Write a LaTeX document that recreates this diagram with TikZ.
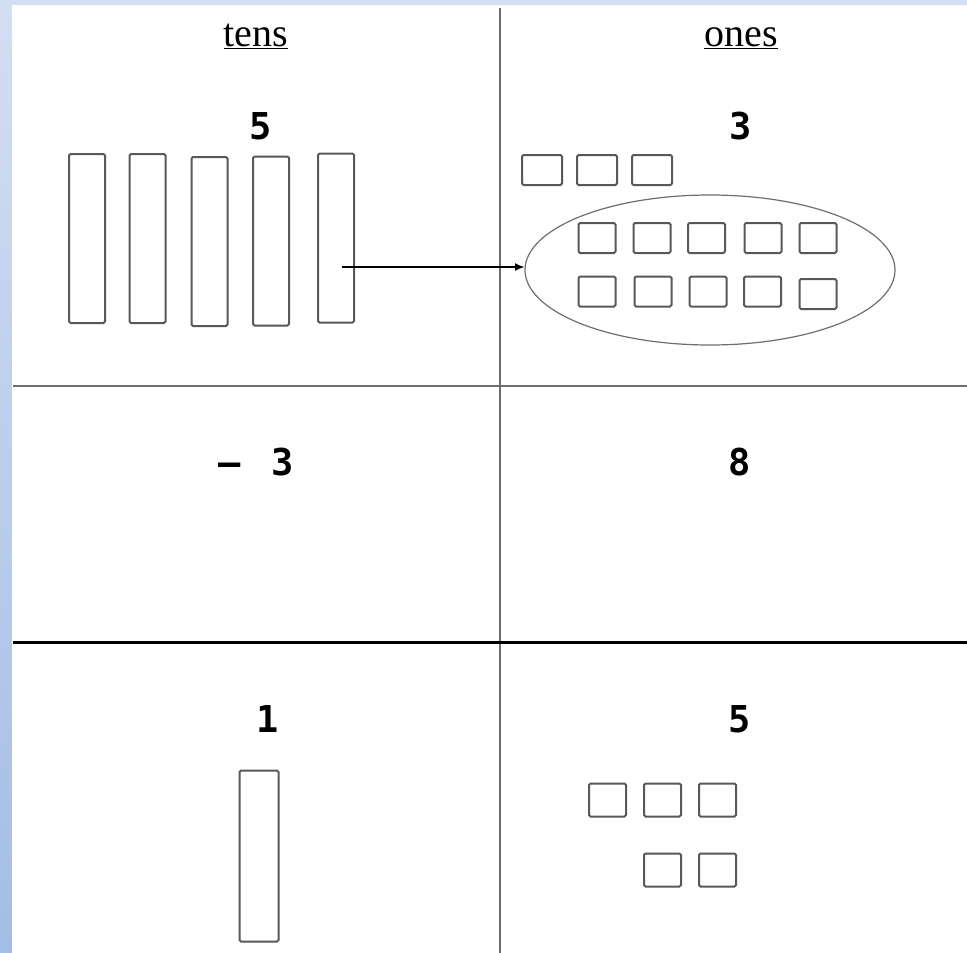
\documentclass[tikz,border=0pt]{standalone}
\usepackage{fontspec}
\setmainfont{Liberation Serif}
\newfontfamily\digitfont{DejaVu Sans Mono}
\usetikzlibrary{shapes.geometric, arrows.meta, positioning}
\definecolor{SlideTop}  {HTML}{D3DEF2}
\definecolor{SlideBot}  {HTML}{A3BDE6}
\definecolor{BlockGray} {HTML}{585858}
\definecolor{RuleGray}  {HTML}{6E6E6E}

\begin{document}
\begin{tikzpicture}[
  x=1pt, y=-1pt,
  every node/.style={inner sep=0pt, outer sep=0pt},
  rod/.style={draw=BlockGray, line width=2pt, rounded corners=1.5pt,
    minimum width=36pt, minimum height=169pt},
  unit/.style={draw=BlockGray, line width=2pt, rounded corners=1.5pt,
    minimum width=37pt, minimum height=30pt},
  head/.style={font=\fontsize{40}{44}\selectfont, anchor=base},
  digit/.style={font=\digitfont\bfseries\fontsize{37}{40}\selectfont, anchor=base},
]
% Slide background
\useasboundingbox (0,0) rectangle (967,953);
\fill[SlideTop] (0,0) rectangle (967,953);
\shade[top color=SlideTop, bottom color=SlideBot] (0,0) rectangle (12,953);
\fill[white] (12,5) rectangle (967,953);

% Table rules
\draw[RuleGray, line width=2pt] (500,8) -- (500,953);
\draw[RuleGray, line width=2.5pt] (13,386) -- (967,386);
\draw[black, line width=3.5pt] (13,642.5) -- (967,642.5);

% Column headings
\node[head] (tens) at (256,46) {\underline{tens}};
\node[head] (ones) at (741,46) {\underline{ones}};

% Top row: 5 tens, 3 ones
\node[digit] (topTens) at (261,139) {5};
\node[digit] (topOnes) at (741,139) {3};
\foreach \name/\x/\y in {rodA/87/238.5, rodB/147.5/238.5, rodC/209.5/241.5,
                         rodD/271/241, rodE/336/238}
  \node[rod] (\name) at (\x,\y) {};
\foreach \name/\x in {looseA/542, looseB/597, looseC/652}
  \node[unit, minimum width=40pt] (\name) at (\x,170) {};

% Regrouped ten as ten ones
\node[ellipse, draw=RuleGray, line width=1.2pt,
  minimum width=370pt, minimum height=150pt] (group) at (710,270) {};
\foreach \name/\x/\y in {gA/597/238, gB/652/238, gC/706.5/238, gD/763/238, gE/818/238,
                         gF/597/291.5, gG/653/291.5, gH/708/291.5, gI/762.5/291.5, gJ/818/294}
  \node[unit] (\name) at (\x,\y) {};
\coordinate (tail) at ([shift={(6,29)}]rodE.center);
\draw[black, line width=2pt, -{Latex[length=10pt, width=8pt]}] (tail) -- (tail -| group.west);

% Middle row: subtract
\node[digit] (minusTens) at (256,475) {–\hspace{31pt}3};
\node[digit] (minusOnes) at (740,475) {8};

% Bottom row: 1 ten, 5 ones
\node[digit] (resTens) at (268,732) {1};
\node[digit] (resOnes) at (740,732) {5};
\node[rod, minimum width=39pt, minimum height=171pt] (rodF) at (259,856) {};
\foreach \name/\x/\y in {rA/607.5/800, rB/662.5/800, rC/717.5/800,
                         rD/662.5/870, rE/717.5/870}
  \node[unit, minimum height=33pt] (\name) at (\x,\y) {};

\end{tikzpicture}
\end{document}
